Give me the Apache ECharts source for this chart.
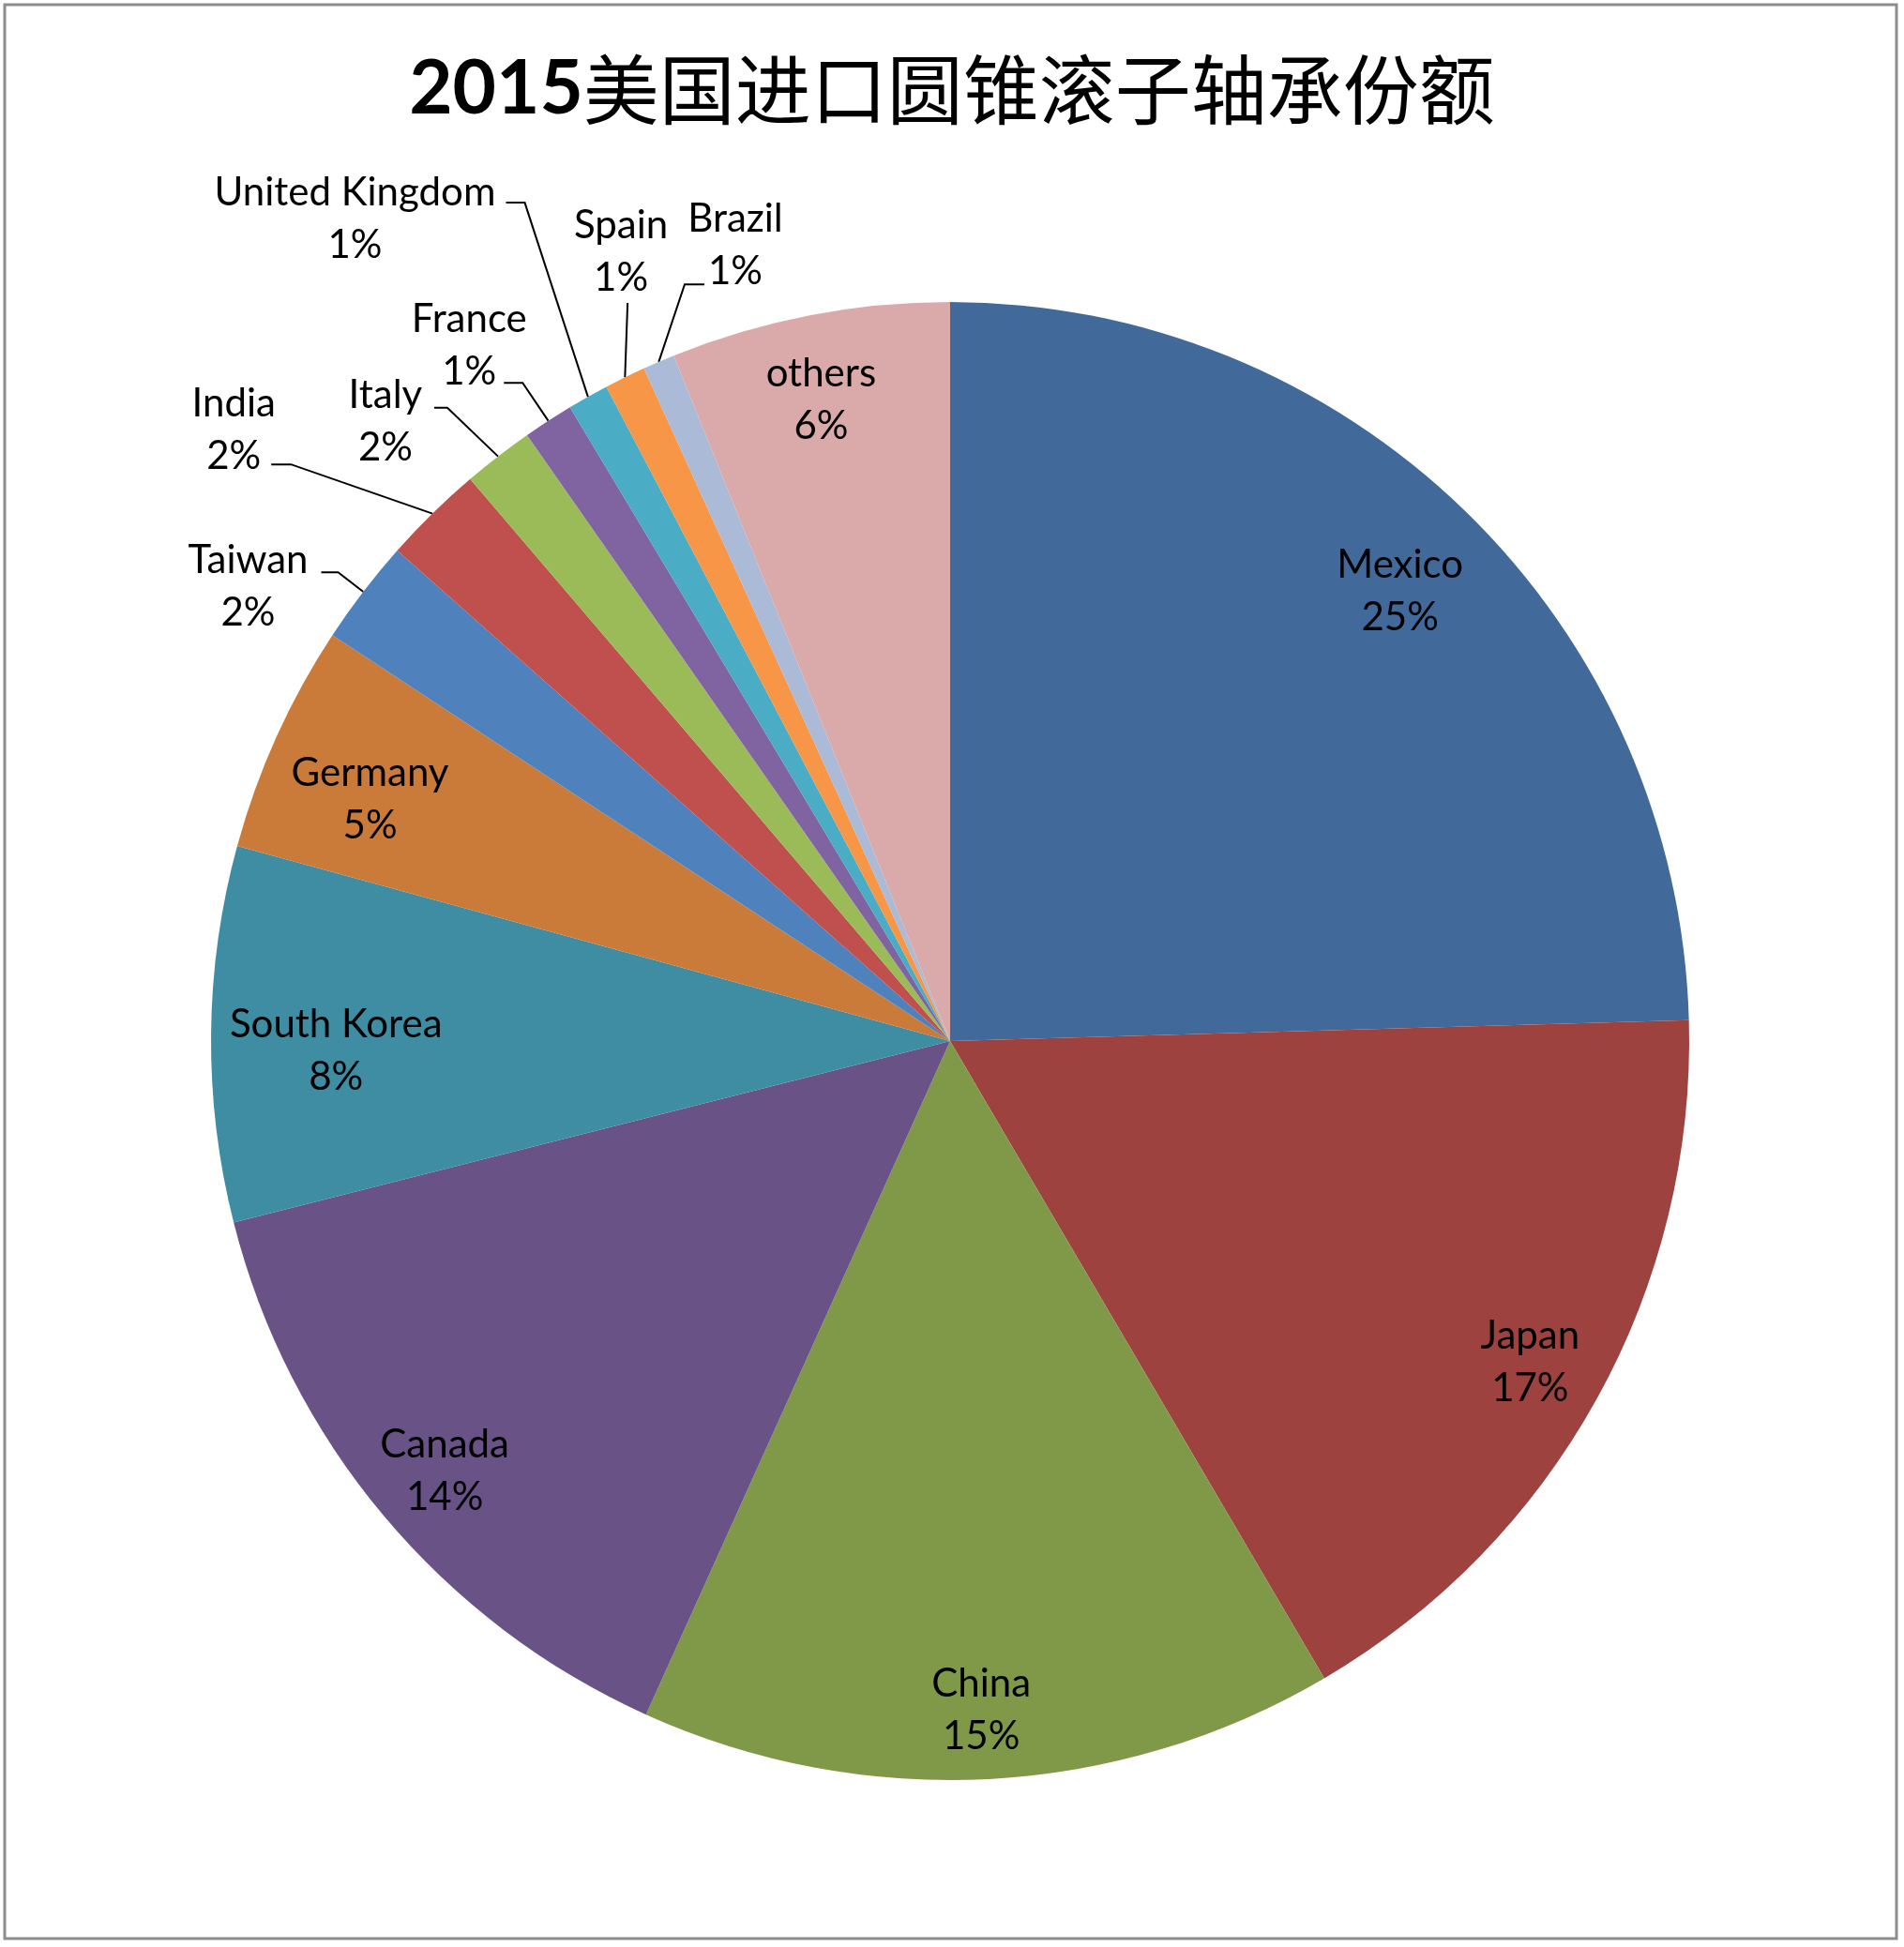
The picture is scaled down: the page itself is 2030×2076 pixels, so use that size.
<!DOCTYPE html>
<html><head><meta charset="utf-8">
<script src="https://cdn.jsdelivr.net/npm/echarts@6/dist/echarts.min.js"></script>
<style>html,body{margin:0;padding:0;background:#fff}#c{width:2030px;height:2076px}</style>
</head><body><div id="c"></div>
<script>
// ---- data ----
const titleYear = '2015';
const titleText = '美国进口圆锥滚子轴承份额';
const countries = ['Mexico','Japan','China','Canada','South Korea','Germany','Taiwan','India','Italy','France','United Kingdom','Spain','Brazil','others'];
const shares = [24.55, 17.0, 15.2, 14.3, 8.2, 5.0, 2.3, 2.2, 1.55, 1.1, 0.9, 0.9, 0.7, 6.1];
const sliceColors = ['#416A9B','#9D423F','#7F9949','#695285','#3E8DA3','#CB7B39','#4F81BD','#C0504D','#9BBB59','#8064A2','#4BACC6','#F79646','#AABAD7','#D9AAA9'];
const outsideLabelled = ['Taiwan','India','Italy','France','United Kingdom','Spain','Brazil'];

// ---- layout / style ----
const CX = 1013, CY = 1110, R = 788;
const FONT = 'Lato';
// inside labels: distance from centre (fraction of radius) and angle shift (deg) from the slice's mid-angle
const insidePlacement = {
  'Mexico':      {r: 0.861,  da: 0.8},
  'Japan':       {r: 0.897,  da: 0},
  'China':       {r: 0.9065, da: 0.4},
  'Canada':      {r: 0.8975, da: -0.4},
  'South Korea': {r: 0.831,  da: -1.44},
  'Germany':     {r: 0.850,  da: -1.72},
  'others':      {r: 0.885,  da: -0.4}
};
// leader line bend point (polar, relative to pie centre), horizontal tail, label centre offset from tail end
const leaderPlacement = {
  'Taiwan':         {bendAngle: 307.45, bendR: 1.043, len2: -18, off: [-78, 15]},
  'India':          {bendAngle: 311.18, bendR: 1.185, len2: -21, off: [-40, -37]},
  'Italy':          {bendAngle: 321.55, bendR: 1.094, len2: -14, off: [-52, 15]},
  'France':         {bendAngle: 327.0,  bendR: 1.062, len2: -20, off: [-37, -40]},
  'United Kingdom': {bendAngle: 333.1,  bendR: 1.272, len2: -20, off: [-161, 17]},
  'Spain':          {bendAngle: 336.4,  bendR: 1.090, len2: 0,   off: [-7, -54]},
  'Brazil':         {bendAngle: 340.67, bendR: 1.085, len2: 21,  off: [33, -42]}
};

const fmt = p => p.name + '\n' + Math.round(p.percent) + '%';
const total = shares.reduce((a, b) => a + b, 0);

function midAngle(idx) {
  let before = 0;
  for (let i = 0; i < idx; i++) before += shares[i];
  return (before + shares[idx] / 2) / total * 2 * Math.PI;
}
function polar(a, r) { return [CX + r * Math.sin(a), CY - r * Math.cos(a)]; }

const labelText = {fontFamily: FONT, fontSize: 42, lineHeight: 56, color: '#000'};

const mainData = countries.map((n, i) => {
  const out = outsideLabelled.includes(n);
  return {
    name: n, value: shares[i],
    itemStyle: {color: sliceColors[i]},
    label: {position: out ? 'outside' : 'inside'},
    labelLine: {show: out}
  };
});

const chart = echarts.init(document.getElementById('c'), null, {renderer: 'canvas'});
chart.setOption({
  animation: false,
  backgroundColor: '#fff',
  title: {
    text: '{y|' + titleYear + '}{c|' + titleText + '}',
    left: 'center', top: 44,
    textStyle: {
      rich: {
        y: {fontFamily: FONT, fontWeight: 'bold', fontSize: 80, lineHeight: 92, color: '#000'},
        c: {fontFamily: 'Noto Sans CJK SC', fontWeight: 'normal', fontSize: 81, lineHeight: 92, color: '#000'}
      }
    }
  },
  graphic: [{
    type: 'rect', silent: true,
    shape: {x: 5, y: 5, width: 2017, height: 2062},
    style: {fill: 'none', stroke: '#8c8c8c', lineWidth: 3}
  }],
  series: [
    {
      type: 'pie', silent: true,
      center: [CX, CY], radius: [0, R],
      startAngle: 90, clockwise: true,
      avoidLabelOverlap: false,
      itemStyle: {borderWidth: 0},
      emphasis: {disabled: true},
      label: Object.assign({show: true, formatter: fmt, align: 'center'}, labelText),
      labelLine: {length: 30, length2: 20, smooth: false, lineStyle: {color: '#000', width: 2}},
      labelLayout: function (params) {
        const idx = params.dataIndex;
        const name = countries[idx];
        const ip = insidePlacement[name];
        if (ip) {
          const p = polar(midAngle(idx) + ip.da * Math.PI / 180, R * ip.r);
          return {x: p[0], y: p[1], align: 'center', verticalAlign: 'middle'};
        }
        const pl = leaderPlacement[name];
        if (!pl) return {};
        const b = polar(pl.bendAngle * Math.PI / 180, R * pl.bendR);
        const p3 = [b[0] + pl.len2, b[1]];
        const p1 = (params.labelLinePoints && params.labelLinePoints[0])
          ? [params.labelLinePoints[0][0], params.labelLinePoints[0][1]]
          : polar(midAngle(idx), R);
        const pts = pl.len2 === 0 ? [p1, b] : [p1, b, p3];
        return {
          x: p3[0] + pl.off[0], y: p3[1] + pl.off[1],
          align: 'center', verticalAlign: 'middle',
          labelLinePoints: pts
        };
      },
      data: mainData
    }
  ]
});
</script>
</body></html>
